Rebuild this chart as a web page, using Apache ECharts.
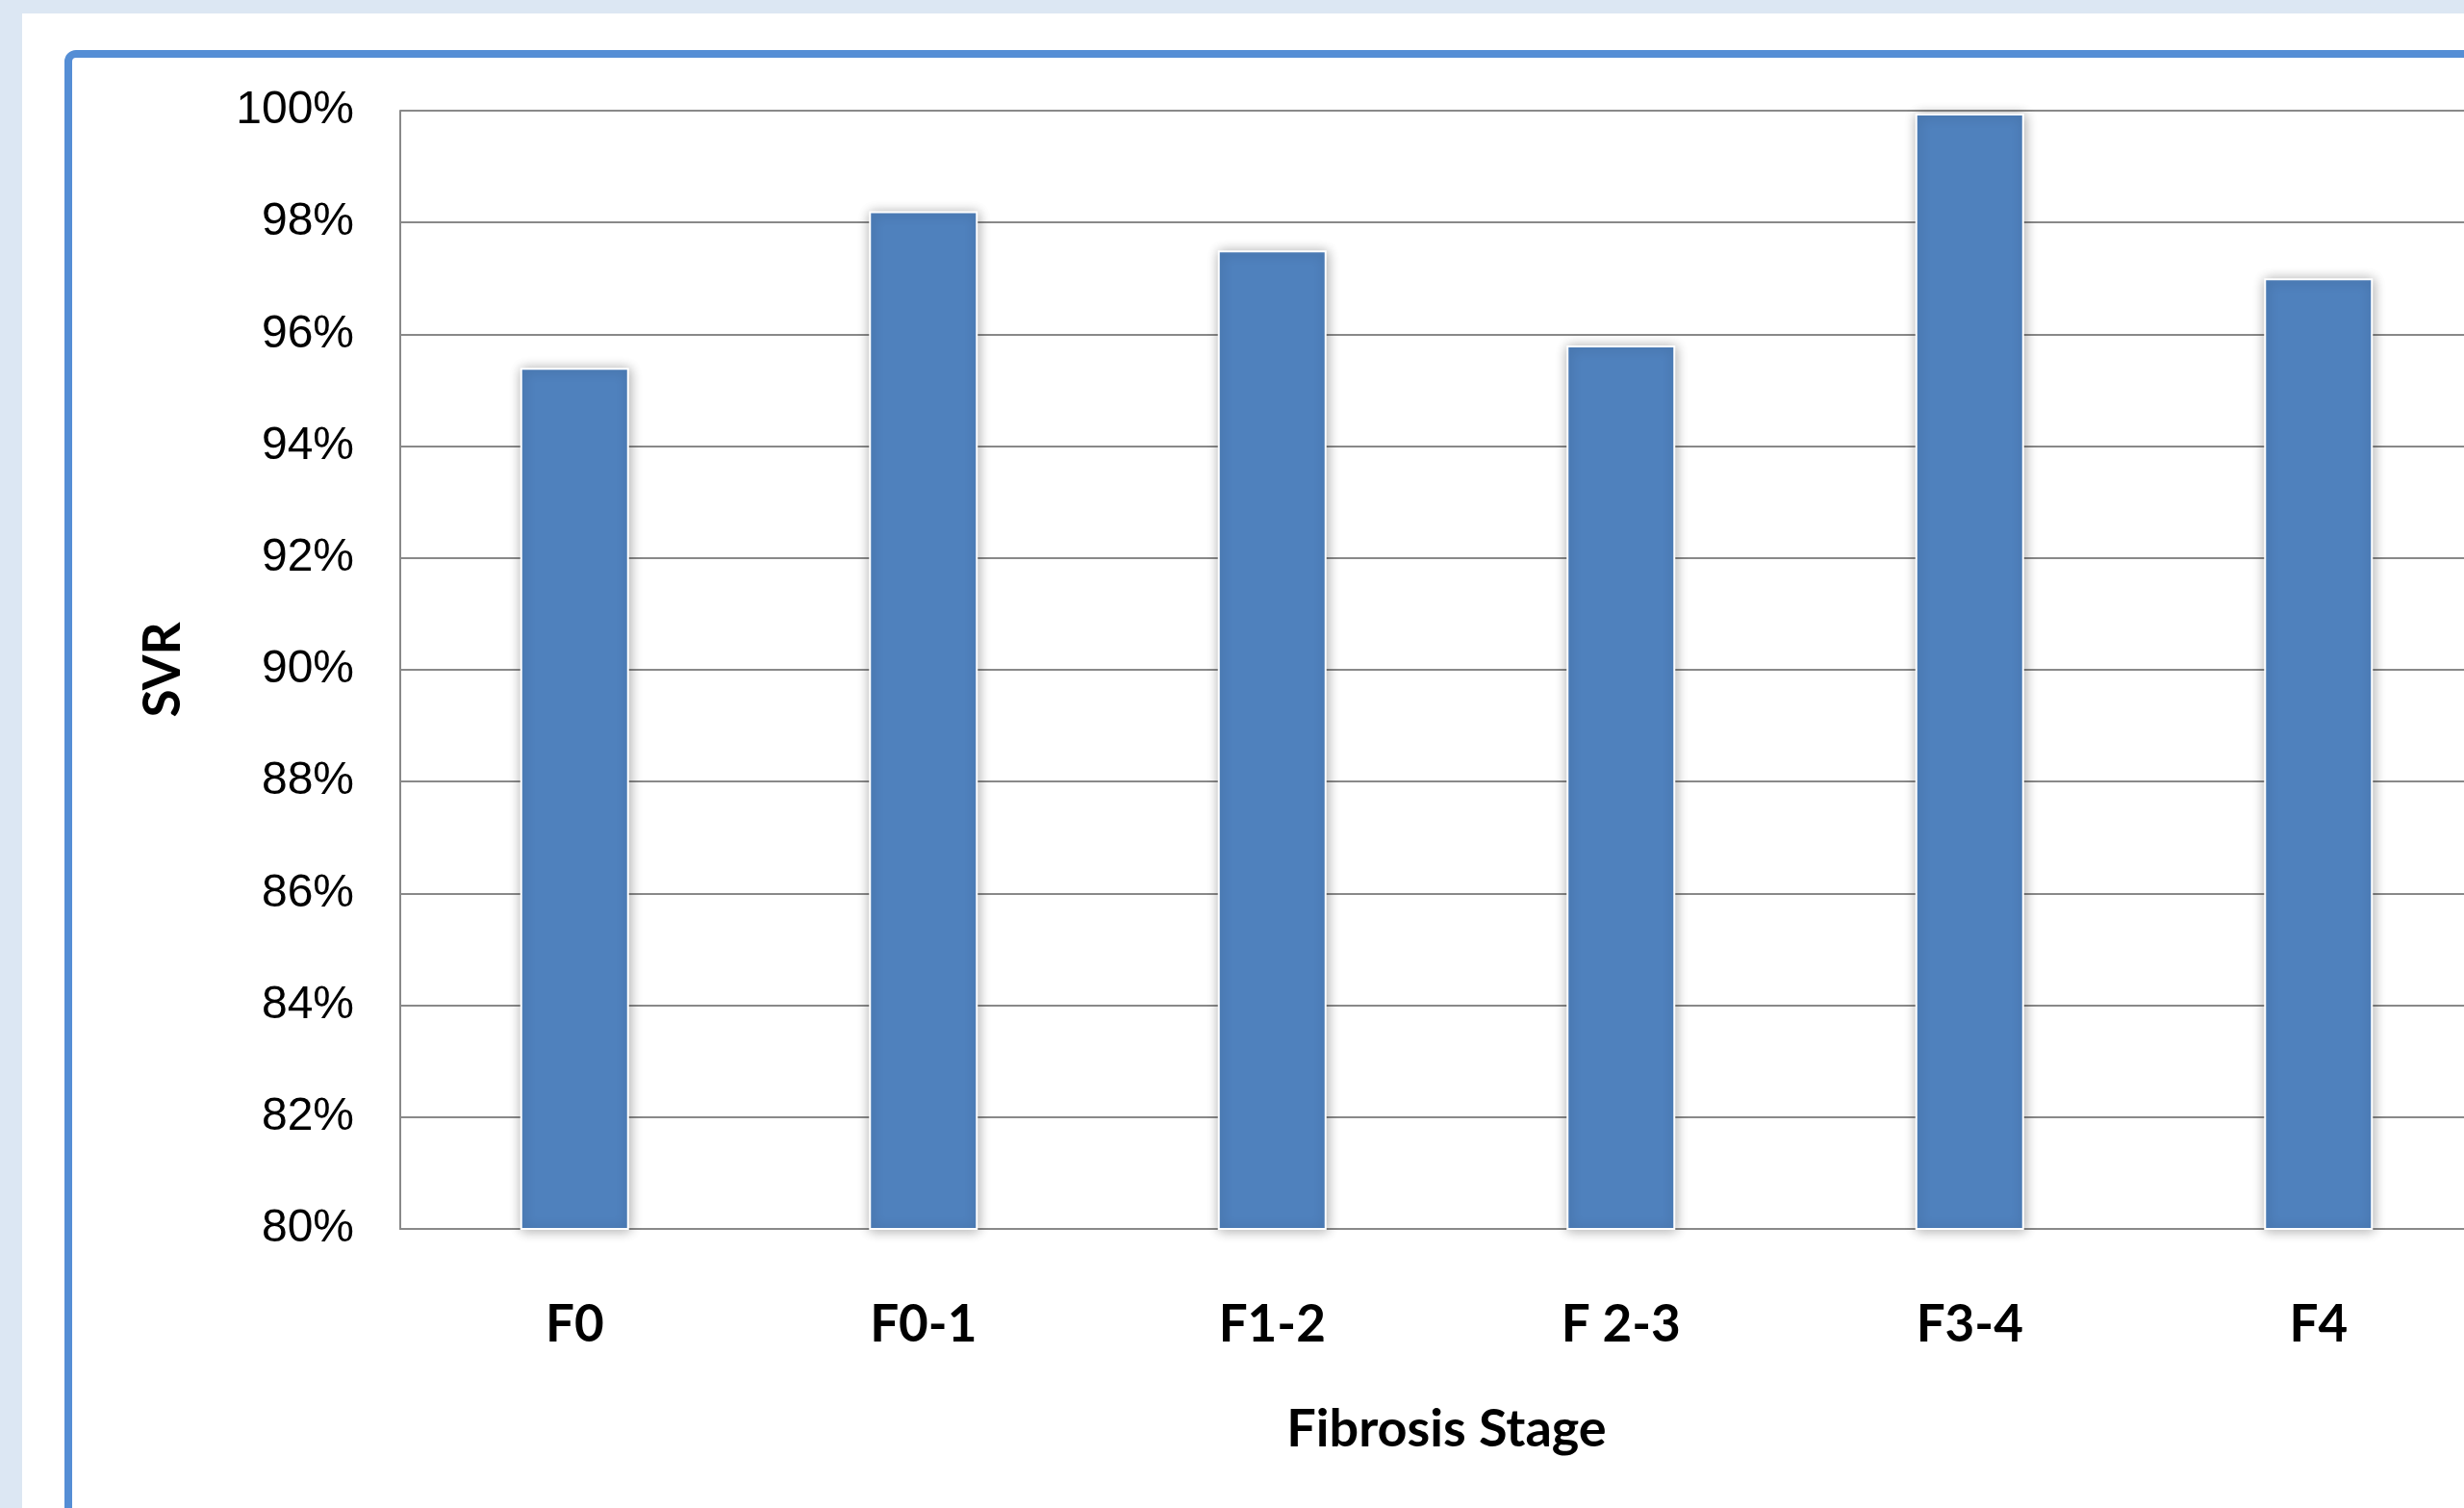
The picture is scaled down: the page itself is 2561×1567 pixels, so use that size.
<!DOCTYPE html>
<html>
<head>
<meta charset="utf-8">
<title>SVR by Fibrosis Stage</title>
<script src="https://cdn.jsdelivr.net/npm/echarts@6/dist/echarts.min.js"></script>
<style>
  html, body { margin: 0; padding: 0; background: #dce7f3; overflow: hidden; }
  /* the plot runs on past the right edge of the window */
  #chart { width: 2640px; height: 1567px; }
</style>
</head>
<body>
<div id="chart"></div>
<script>
// Fibrosis stages and sustained virological response rate (%)
const stages = ['F0', 'F0-1', 'F1-2', 'F 2-3', 'F3-4', 'F4'];
const svrPercent = [95.4, 98.2, 97.5, 95.8, 99.95, 97.0];

// Value axis range (percent)
const yMin = 80;
const yMax = 100;
const yStep = 2;

const chart = echarts.init(document.getElementById('chart'), null, { renderer: 'canvas' });

const gridColor = '#898989';

chart.setOption({
  backgroundColor: '#dce7f3',
  animation: false,
  graphic: [
    {
      type: 'rect',
      z: -10,
      shape: { x: 23, y: 14, width: 2700, height: 1700 },
      style: { fill: '#ffffff' },
      silent: true
    },
    {
      type: 'rect',
      z: -9,
      shape: { x: 71, y: 56, width: 2700, height: 1700, r: 8 },
      style: { fill: 'none', stroke: '#558ed5', lineWidth: 8 },
      silent: true
    }
  ],
  grid: {
    left: 416,
    top: 115,
    width: 2175,
    height: 1162,
    containLabel: false
  },
  xAxis: {
    type: 'category',
    data: stages,
    name: 'Fibrosis Stage',
    nameLocation: 'middle',
    nameGap: 209,
    nameTextStyle: {
      fontFamily: 'Lato',
      fontWeight: 'bold',
      fontSize: 54,
      color: '#000',
      verticalAlign: 'middle'
    },
    axisLine: { show: true, lineStyle: { color: gridColor, width: 2 } },
    axisTick: { show: false },
    axisLabel: {
      margin: 100,
      verticalAlign: 'middle',
      fontFamily: 'Lato',
      fontWeight: 'bold',
      fontSize: 53,
      color: '#000'
    },
    splitLine: { show: false }
  },
  yAxis: {
    type: 'value',
    min: yMin,
    max: yMax,
    interval: yStep,
    name: 'SVR',
    nameLocation: 'middle',
    nameRotate: 90,
    nameGap: 246,
    nameTextStyle: {
      fontFamily: 'Lato',
      fontWeight: 'bold',
      fontSize: 53,
      color: '#000',
      verticalAlign: 'middle',
      align: 'center'
    },
    axisLine: { show: true, lineStyle: { color: gridColor, width: 2 } },
    axisTick: { show: false },
    axisLabel: {
      margin: 48,
      formatter: '{value}%',
      fontFamily: 'Liberation Sans',
      fontSize: 48,
      color: '#000'
    },
    splitLine: { show: true, lineStyle: { color: gridColor, width: 2 } }
  },
  series: [
    {
      type: 'bar',
      data: svrPercent,
      barWidth: 113,
      itemStyle: {
        color: '#4f81bd',
        borderColor: '#ffffff',
        borderWidth: 2,
        shadowBlur: 12,
        shadowColor: 'rgba(0,0,0,0.32)',
        shadowOffsetX: 1,
        shadowOffsetY: 1
      }
    }
  ]
});
</script>
</body>
</html>
